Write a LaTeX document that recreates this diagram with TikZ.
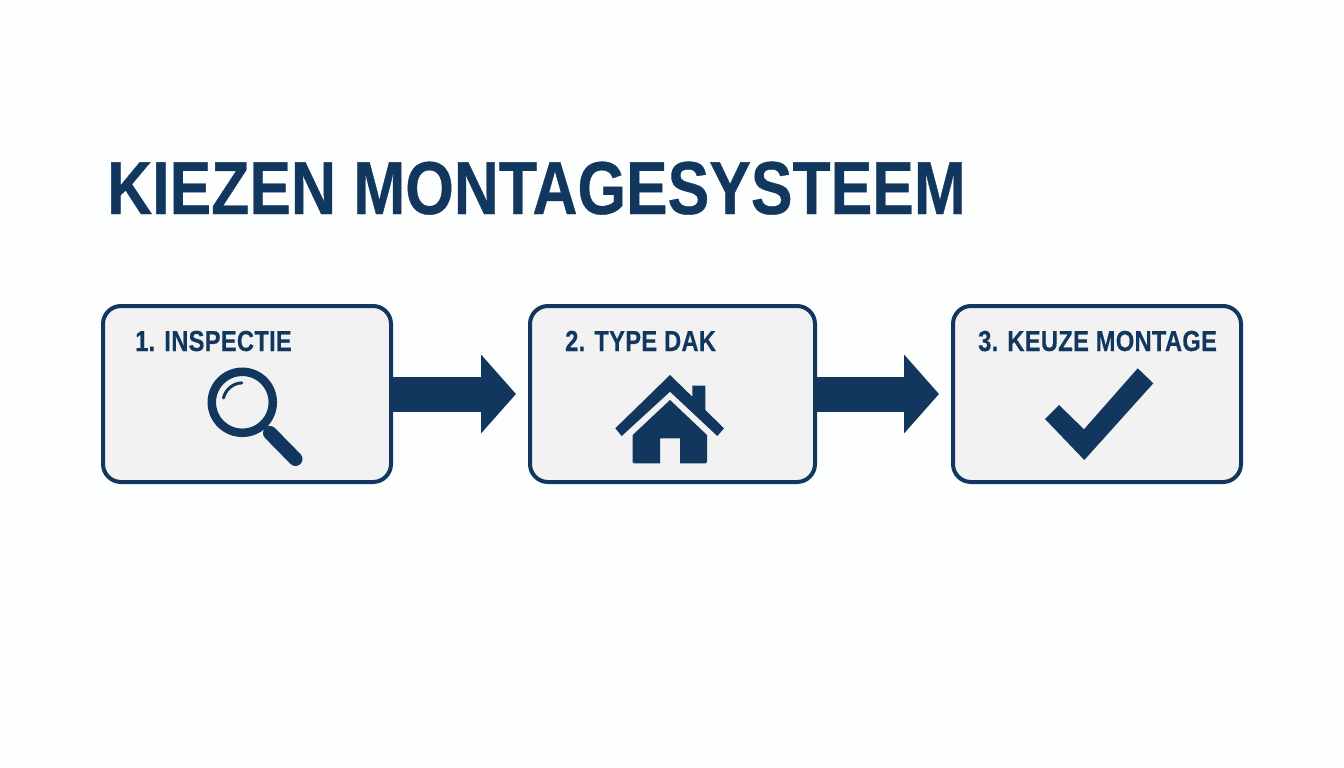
\documentclass[tikz,border=0pt]{standalone}
\usepackage{fontspec}
\newfontfamily\titlefont[FakeStretch=0.832, BoldFeatures={FakeBold=0.5}]{Liberation Sans}
\newfontfamily\labelfont[FakeStretch=0.82, LetterSpace=0.8, BoldFeatures={FakeBold=0.25}]{Liberation Sans}
\usetikzlibrary{positioning, arrows.meta}
\definecolor{navy}{HTML}{12375E}
\definecolor{boxfill}{HTML}{F2F2F3}
\definecolor{pagefill}{HTML}{FDFEFE}
\tikzset{
	node distance=139pt,
	stepbox/.style={draw=navy, line width=4pt, fill=boxfill, rounded corners=18pt, outer sep=0pt, inner sep=0pt, minimum width=288pt, minimum height=176pt},
	steplabel/.style={anchor=base west, inner sep=0pt, text=navy, font=\labelfont\fontsize{29}{29}\selectfont\bfseries},
	steparrow/.style={draw=navy, line width=35pt, -{Triangle[length=35pt, width=77pt]}},
	icon/.style={fill=navy, draw=none}}

\begin{document}
\begin{tikzpicture}[x=1pt, y=-1pt]

		\path[use as bounding box, fill=pagefill] (0,0) rectangle (1344,768);

		\node[anchor=base west, inner sep=0pt, text=navy, font=\titlefont\fontsize{75}{75}\selectfont\bfseries] (title) at (107,214) {KIEZEN MONTAGESYSTEEM};

		\node[stepbox] (box1) at (247,394) {};
		\node[stepbox, minimum width=285pt, right=of box1] (box2) {};
		\node[stepbox, right=138pt of box2] (box3) {};

		\node[steplabel] (label1) at (135,351) {1. INSPECTIE};
		\node[steplabel] (label2) at (565,351) {2. TYPE DAK};
		\node[steplabel] (label3) at (978,351) {3. KEUZE MONTAGE};

		\coordinate[right=125pt of box1.east] (tip1);
		\coordinate[right=124pt of box2.east] (tip2);
		\draw[steparrow] (box1) -- (tip1);
		\draw[steparrow] (box2) -- (tip2);

		% magnifier
		\draw[navy, line width=8.5pt] (242.3,402.3) circle (30.5);
		\draw[navy, line width=3pt, line cap=round] (223.5,398) arc (193:268:19.5);
		\draw[navy, line width=6pt] (262,423) -- (270,432);
		\draw[navy, line width=14pt, line cap=round] (270,433) -- (295.5,459);

		% house
		\fill[icon] (670,375) -- (692.3,396.7) -- (692.3,385.7) -- (705.3,385.7) -- (705.3,410) -- (724,428.3) -- (717.3,436) -- (670,391.7) -- (621.7,436) -- (615.3,428.3) -- cycle;
		\fill[icon] (670,400) -- (707,435) -- (707,461.8) [rounded corners=1.5pt] -- (707,463.3) [sharp corners] -- (680,463.3) -- (680,438.3) -- (660,438.3) -- (660,463.3) [rounded corners=1.5pt] -- (632.7,463.3) -- (632.7,461.8) [sharp corners] -- (632.7,435) -- cycle;

		% check mark
		\fill[icon] (1059,405) -- (1084,429.3) -- (1137.7,368.3) -- (1153.3,383.3) -- (1084.3,460) -- (1045,419) -- cycle;

	\end{tikzpicture}
\end{document}
